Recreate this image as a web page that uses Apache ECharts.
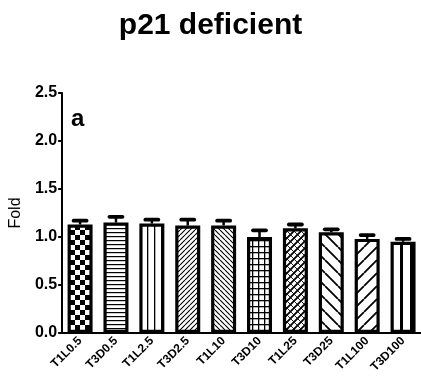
<!DOCTYPE html>
<html>
<head>
<meta charset="utf-8">
<script src="https://cdn.jsdelivr.net/npm/echarts@6/dist/echarts.min.js"></script>
<style>
  html, body { margin: 0; padding: 0; background: #fff; }
  #chart { width: 421px; height: 389px; }
</style>
</head>
<body>
<div id="chart"></div>
<script>
// Treatment groups and measured fold change (mean with upper SEM)
const categories = ['T1L0.5', 'T3D0.5', 'T1L2.5', 'T3D2.5', 'T1L10', 'T3D10', 'T1L25', 'T3D25', 'T1L100', 'T3D100'];
const foldMean = [1.13, 1.15, 1.14, 1.12, 1.12, 1.00, 1.09, 1.05, 0.98, 0.95];
const foldSem = [0.04, 0.06, 0.04, 0.06, 0.05, 0.07, 0.04, 0.03, 0.04, 0.03];
const yTicks = { min: 0, max: 2.5, step: 0.5 };

// Fill pattern builders: each returns a small canvas tile
function tile(w, h, draw) {
  const c = document.createElement('canvas');
  c.width = w; c.height = h;
  const g = c.getContext('2d');
  g.fillStyle = '#fff';
  g.fillRect(0, 0, w, h);
  g.fillStyle = '#000';
  g.strokeStyle = '#000';
  draw(g, w, h);
  return c;
}
function diag(g, s, lw, dir) {
  g.lineWidth = lw;
  g.beginPath();
  for (let k = -1; k <= 1; k++) {
    if (dir > 0) { g.moveTo(k * s, s); g.lineTo(k * s + s, 0); }
    else { g.moveTo(k * s, 0); g.lineTo(k * s + s, s); }
  }
  g.stroke();
}
const patterns = [
  tile(10, 10, g => { g.fillRect(0, 0, 5, 5); g.fillRect(5, 5, 5, 5); }),
  tile(4, 4, g => { g.fillRect(0, 0, 4, 1.2); }),
  tile(7, 4, g => { g.fillRect(0, 0, 1.3, 4); }),
  tile(5, 5, g => diag(g, 5, 1.1, 1)),
  tile(5, 5, g => diag(g, 5, 1.1, -1)),
  tile(6, 6, g => { g.fillRect(0, 0, 6, 1.3); g.fillRect(0, 0, 1.3, 6); }),
  tile(7, 7, g => { diag(g, 7, 1.8, 1); diag(g, 7, 0.9, -1); }),
  tile(13, 13, g => diag(g, 13, 1.8, -1)),
  tile(13, 13, g => diag(g, 13, 1.8, 1)),
  tile(10, 4, g => { g.fillRect(0, 0, 3, 4); })
];

const barData = foldMean.map((v, i) => ({
  value: v,
  itemStyle: { color: { image: patterns[i], repeat: 'repeat' } }
}));
const errData = foldMean.map((v, i) => [i, v, v + foldSem[i]]);

const chart = echarts.init(document.getElementById('chart'), null, { renderer: 'canvas' });
chart.setOption({
  animation: false,
  backgroundColor: '#fff',
  title: {
    text: 'p21 deficient',
    left: 'center', top: 6,
    textStyle: { fontFamily: 'Liberation Sans, Arial, sans-serif', fontSize: 30, fontWeight: 'bold', color: '#000' }
  },
  graphic: [{
    type: 'text', left: 71, top: 107,
    style: { text: 'a', font: 'bold 24px "Liberation Sans", Arial, sans-serif', fill: '#000' }
  }],
  grid: { left: 58, top: 93, width: 363, height: 240, containLabel: false },
  xAxis: {
    type: 'category',
    data: categories,
    axisLine: { lineStyle: { color: '#000', width: 2 } },
    axisTick: { alignWithLabel: true, length: 4, lineStyle: { color: '#000', width: 2 } },
    axisLabel: {
      rotate: 45, margin: 6, color: '#000',
      fontFamily: 'Liberation Sans, Arial, sans-serif', fontSize: 12, fontWeight: 'bold'
    }
  },
  yAxis: {
    type: 'value',
    min: yTicks.min, max: yTicks.max, interval: yTicks.step,
    name: 'Fold', nameLocation: 'middle', nameGap: 31,
    nameTextStyle: { fontFamily: 'Liberation Sans, Arial, sans-serif', fontSize: 16, color: '#000' },
    splitLine: { show: false },
    axisLine: { show: true, lineStyle: { color: '#000', width: 2 } },
    axisTick: { show: true, length: 4, lineStyle: { color: '#000', width: 2 } },
    axisLabel: {
      margin: 5, color: '#000', formatter: v => v.toFixed(1),
      fontFamily: 'Liberation Sans, Arial, sans-serif', fontSize: 16, fontWeight: 'bold'
    }
  },
  series: [
    {
      type: 'bar',
      data: barData,
      barWidth: 25,
      itemStyle: { borderColor: '#000', borderWidth: 3.2 },
      z: 2
    },
    {
      type: 'custom',
      data: errData,
      z: 3,
      renderItem: function (params, api) {
        const x = api.coord([api.value(0), api.value(1)])[0];
        const yLow = api.coord([api.value(0), api.value(1)])[1];
        const yHigh = api.coord([api.value(0), api.value(2)])[1];
        return {
          type: 'group',
          children: [
            { type: 'line', shape: { x1: x, y1: yLow, x2: x, y2: yHigh },
              style: { stroke: '#000', lineWidth: 2.5 } },
            { type: 'line', shape: { x1: x - 6.5, y1: yHigh, x2: x + 6.5, y2: yHigh },
              style: { stroke: '#000', lineWidth: 3.8, lineCap: 'round' } }
          ]
        };
      }
    }
  ]
});
</script>
</body>
</html>
